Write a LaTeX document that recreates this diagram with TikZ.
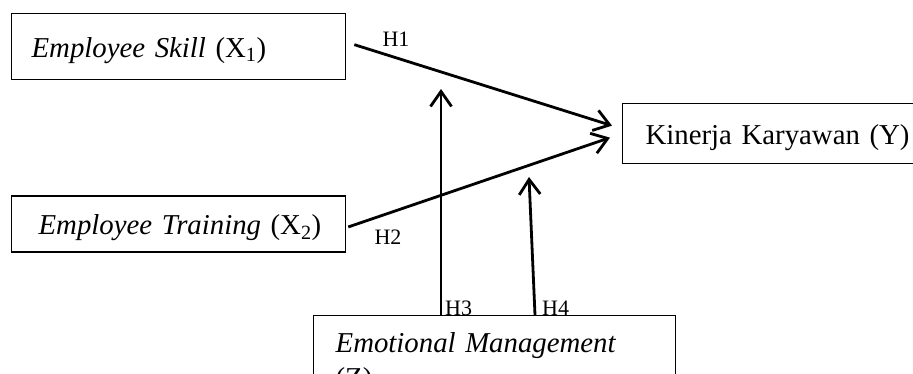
\documentclass[tikz,border=0pt]{standalone}
\usepackage{fontspec}
\setmainfont{Liberation Serif}
\usetikzlibrary{positioning,arrows.meta}

\begin{document}
\begin{tikzpicture}[
  x=1pt, y=-1pt,
  every node/.style={font=\fontsize{28.8}{34.5}\selectfont},
  var-box/.style={draw,line width=1.3pt,anchor=north west,align=left,inner ysep=0pt},
  one-line/.style={text height=27pt,text depth=6pt},
  hyp-arrow/.style={draw,line width=2.8pt,-{Straight Barb[length=15pt,width=21pt]}},
  hyp-label/.style={font=\fontsize{22}{26}\selectfont,inner sep=0pt},
  ]

  \useasboundingbox (0,0) rectangle (913,373);
  \clip (0,0) rectangle (913,373);

  \node [var-box,one-line,minimum height=66pt,inner xsep=20pt,text width=294pt] (skill-box) at (11,13) {\textit{Employee Skill} (X\textsubscript{1})};
  \node [var-box,one-line,minimum height=56pt,inner xsep=27pt,text width=280pt,below=115pt of skill-box.south west,anchor=north west] (training-box) {\mbox{\textit{Employee Training} (X\textsubscript{2})}};
  \node [var-box,one-line,minimum height=60pt,inner xsep=23pt,text width=274pt] (kinerja-box) at (622,103) {Kinerja Karyawan (Y)};
  \node [var-box,inner xsep=22pt,inner ysep=17pt,text width=318pt] (emotion-box) at (313,315) {\textit{Emotional Management}\\(Z)};

  \coordinate (h3-base) at ([xshift=128pt]emotion-box.north west);
  \coordinate (h4-base) at ([xshift=222pt]emotion-box.north west);
  \coordinate (h3-tip) at (441,89);
  \coordinate (h4-tip) at (529,177);

  \draw [hyp-arrow] ([xshift=8pt,yshift=2pt]skill-box.east) -- ([xshift=-10pt,yshift=8pt]kinerja-box.west);
  \draw [hyp-arrow] ([xshift=2pt,yshift=-3pt]training-box.east) -- ([xshift=-12pt,yshift=-4pt]kinerja-box.west);
  \draw [hyp-arrow] (h3-base) -- (h3-tip);
  \draw [hyp-arrow] (h4-base) -- (h4-tip);

  \node [hyp-label,right=36pt of skill-box.east,anchor=base west] (h1-label) {H1};
  \node [hyp-label,below right=21pt and 28pt of training-box.east,anchor=base west] (h2-label) {H2};
  \node [hyp-label,right=4pt of h3-base,anchor=base west] (h3-label) {H3};
  \node [hyp-label,right=7pt of h4-base,anchor=base west] (h4-label) {H4};

\end{tikzpicture}
\end{document}
